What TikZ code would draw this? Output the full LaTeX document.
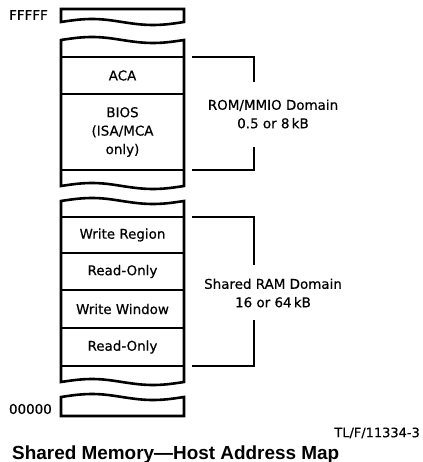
\documentclass[tikz,border=0pt]{standalone}
\usepackage{fontspec}
\setmainfont{DejaVu Sans}[FakeBold=0.5]
\newfontfamily\titlefont{Liberation Sans}
\newcommand{\mapfont}{\fontsize{13.5}{18.5}\selectfont}
\newcommand{\tagfont}{\fontsize{13}{14}\selectfont}

\begin{document}
\begin{tikzpicture}[x=1bp,y=-1bp,
  cell/.style={draw,line width=2.6bp,minimum width=123bp,inner sep=0pt,outer sep=0pt,align=center,font=\mapfont},
  wall/.style={line width=2.6bp},
  bracket/.style={line width=1.5bp},
  lbl/.style={inner sep=0pt,align=center,font=\mapfont}]
\useasboundingbox (0,0) rectangle (422,462);
\draw[wall] (61,22) -- (61,9) -- (184,9) -- (184,22) sin (153,25) cos (122,22) sin (92,19) cos (61,22) -- cycle;
\draw[wall] (61,186) -- (61,40) sin (92,37) cos (122,40) sin (153,43) cos (184,40) -- (184,186) sin (153,189) cos (122,186) sin (92,183) cos (61,186) -- cycle;
\draw[wall] (61,382) -- (61,201) sin (92,198) cos (122,201) sin (153,204) cos (184,201) -- (184,382) sin (153,385) cos (122,382) sin (92,379) cos (61,382) -- cycle;
\draw[wall] (61,416) -- (61,397) sin (92,394) cos (122,397) sin (153,400) cos (184,397) -- (184,416) -- cycle;
\node[cell,minimum height=37bp] (aca) at (122.5,75.5) {ACA};
\node[cell,minimum height=76bp] (bios) at (122.5,132) {BIOS\\(ISA/MCA\\only)};
\node[cell,minimum height=36bp] (wreg) at (122.5,235) {Write Region};
\node[cell,minimum height=37bp] (ro1) at (122.5,271.5) {Read-Only};
\node[cell,minimum height=38bp] (wwin) at (122.5,309) {Write Window};
\node[cell,minimum height=38bp] (ro2) at (122.5,347) {Read-Only};
\node[lbl,anchor=east] (top) at (48,15) {FFFFF};
\node[lbl,anchor=east] (bottom) at (52,409) {00000};
\node[lbl] (rom) at (273,114) {ROM/MMIO Domain\\0.5 or 8\,kB};
\node[lbl] (ram) at (273,293) {Shared RAM Domain\\16 or 64\,kB};
\coordinate (romtop) at (254,82);
\coordinate (rombot) at (254,147);
\coordinate (ramtop) at (254,265);
\coordinate (rambot) at (254,320);
\draw[bracket] ([xshift=8bp]aca.north east) -| (romtop);
\draw[bracket] ([xshift=8bp]bios.south east) -| (rombot);
\draw[bracket] ([xshift=8bp]wreg.north east) -| (ramtop);
\draw[bracket] ([xshift=8bp]ro2.south east) -| (rambot);
\node[lbl,anchor=east,font=\tagfont] (fig) at (420,433) {TL/F/11334-3};
\node[lbl,anchor=base west,font=\titlefont\bfseries\fontsize{19}{22}\selectfont] (title) at (12,459) {Shared Memory—Host Address Map};
\end{tikzpicture}
\end{document}
